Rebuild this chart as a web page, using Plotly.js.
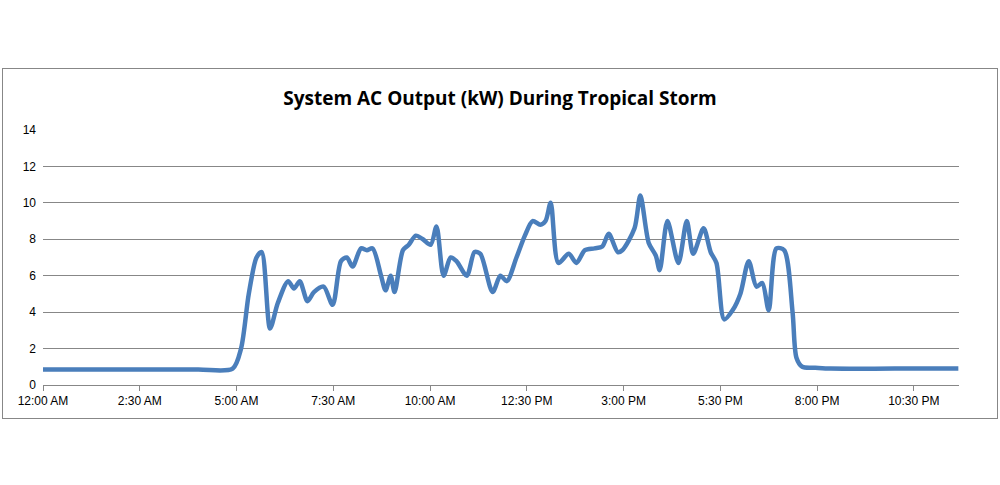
<!DOCTYPE html>
<html>
<head>
<meta charset="utf-8">
<script src="https://cdn.plot.ly/plotly-3.0.1.min.js"></script>
<style>
  body { margin: 0; background: #fff; }
  #box { position: absolute; left: 2px; top: 68px; width: 994px; height: 349px; border: 1px solid #878787; }
  #graph { width: 994px; height: 349px; }
</style>
</head>
<body>
<div id="box"><div id="graph"></div></div>
<script>
// times of day and output in kW
var times = ["00:00", "02:00", "04:00", "04:54", "05:07", "05:19", "05:31", "05:39", "05:52", "06:04",
  "06:20", "06:29", "06:38", "06:50", "07:00", "07:15", "07:29", "07:42", "07:51", "08:00",
  "08:13", "08:22", "08:31", "08:44", "08:51", "08:59", "09:05", "09:18", "09:27", "09:38",
  "09:49", "10:01", "10:10", "10:21", "10:32", "10:41", "10:57", "11:09", "11:18", "11:37",
  "11:49", "11:59", "12:14", "12:27", "12:39", "12:51", "12:59", "13:07", "13:19", "13:35",
  "13:47", "14:00", "14:15", "14:27", "14:37", "14:51", "14:58", "15:17", "15:26", "15:39",
  "15:50", "15:56", "16:08", "16:25", "16:38", "16:48", "17:04", "17:15", "17:24", "17:36",
  "17:49", "18:01", "18:14", "18:26", "18:35", "18:45", "18:57", "19:09", "19:22", "19:28",
  "19:37", "19:57", "20:21", "22:00", "23:39"];
var kw = [0.85, 0.85, 0.85, 0.9, 2.0, 5.0, 7.0, 7.3, 3.1, 4.5,
  5.7, 5.3, 5.7, 4.6, 5.1, 5.4, 4.4, 6.8, 7.0, 6.5,
  7.5, 7.4, 7.5, 6.0, 5.2, 6.0, 5.1, 7.4, 7.7, 8.2,
  8.0, 7.7, 8.7, 6.0, 7.0, 6.8, 6.0, 7.3, 7.2, 5.1,
  6.0, 5.7, 7.0, 8.2, 9.0, 8.8, 9.0, 10.0, 6.7, 7.2,
  6.7, 7.4, 7.5, 7.6, 8.3, 7.3, 7.4, 8.6, 10.4, 7.8,
  7.1, 6.3, 9.0, 6.7, 9.0, 7.2, 8.6, 7.3, 6.7, 3.6,
  4.1, 5.0, 6.8, 5.4, 5.6, 4.1, 7.5, 7.4, 4.0, 1.5,
  1.0, 0.95, 0.9, 0.9, 0.9];
var tickTimes = ["00:00", "02:30", "05:00", "07:30", "10:00", "12:30", "15:00", "17:30", "20:00", "22:30"];
var tickLabels = ["12:00 AM", "2:30 AM", "5:00 AM", "7:30 AM", "10:00 AM", "12:30 PM", "3:00 PM", "5:30 PM", "8:00 PM", "10:30 PM"];

var day = "2000-01-01 ";
var trace = {
  x: times.map(function (t) { return day + t; }),
  y: kw,
  mode: "lines",
  line: { color: "#4a7ebb", width: 4.5, shape: "spline", smoothing: 0.8 },
  hoverinfo: "skip"
};

var layout = {
  width: 994, height: 349,
  margin: { l: 40, r: 38, t: 61, b: 33 },
  paper_bgcolor: "#fff", plot_bgcolor: "#fff",
  font: { family: "Liberation Sans, Arial, sans-serif", size: 12, color: "#000" },
  title: { text: "<b>System AC Output (kW) During Tropical Storm</b>", x: 0.5, y: 0.915, yanchor: "middle",
    font: { family: "Open Sans, Liberation Sans, sans-serif", size: 19, color: "#000" } },
  showlegend: false,
  xaxis: {
    type: "date",
    range: [day + "00:00", day + "23:40"],
    tickmode: "array",
    tickvals: tickTimes.map(function (t) { return day + t; }),
    ticktext: tickLabels,
    showgrid: false, zeroline: false,
    showline: true, linecolor: "#878787", linewidth: 1,
    ticks: "outside", ticklen: 5, tickcolor: "#878787"
  },
  yaxis: {
    range: [0, 14], dtick: 2,
    showgrid: true, gridcolor: "#878787", gridwidth: 1,
    zeroline: false, showline: false,
    ticks: "", ticklabelstandoff: 6
  }
};

Plotly.newPlot("graph", [trace], layout, { displayModeBar: false, staticPlot: true });
</script>
</body>
</html>
